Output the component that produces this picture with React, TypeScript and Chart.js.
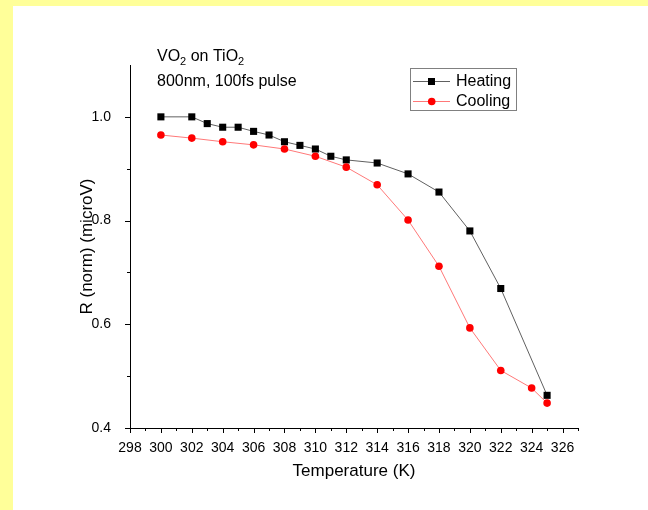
import React, { useEffect, useRef } from "react";
import { Chart, registerables } from "chart.js";

Chart.register(...registerables);

const heatingT = [300, 302, 303, 304, 305, 306, 307, 308, 309, 310, 311, 312, 314, 316, 318, 320, 322, 325];
const heatingR = [1.0, 1.0, 0.987, 0.98, 0.98, 0.972, 0.965, 0.952, 0.945, 0.938, 0.924, 0.917, 0.911, 0.89, 0.855, 0.78, 0.669, 0.463];
const coolingT = [300, 302, 304, 306, 308, 310, 312, 314, 316, 318, 320, 322, 324, 325];
const coolingR = [0.965, 0.959, 0.952, 0.946, 0.938, 0.924, 0.903, 0.869, 0.801, 0.712, 0.593, 0.511, 0.477, 0.448];

const xMajor = [298, 300, 302, 304, 306, 308, 310, 312, 314, 316, 318, 320, 322, 324, 326];
const xMinor = [299, 301, 303, 305, 307, 309, 311, 313, 315, 317, 319, 321, 323, 325, 327];
const yMajor = [0.4, 0.6, 0.8, 1.0];
const yMinor = [0.5, 0.7, 0.9];

const FONT = "'Liberation Sans', Arial, Helvetica, sans-serif";
const HEAT_LINE = "#606060";
const COOL_LINE = "#ff7878";

const extrasPlugin = {
  id: "extras",
  afterDraw(chart: any) {
    const ctx = chart.ctx;
    const xs = chart.scales.x;
    const ys = chart.scales.y;
    const { left, bottom } = chart.chartArea;
    ctx.save();
    ctx.strokeStyle = "#000";
    ctx.lineWidth = 1;
    ctx.beginPath();
    for (const v of xMajor) {
      const p = Math.round(xs.getPixelForValue(v)) + 0.5;
      ctx.moveTo(p, bottom);
      ctx.lineTo(p, bottom + 5);
    }
    for (const v of xMinor) {
      const p = Math.round(xs.getPixelForValue(v)) + 0.5;
      ctx.moveTo(p, bottom);
      ctx.lineTo(p, bottom + 3);
    }
    for (const v of yMajor) {
      const p = Math.round(ys.getPixelForValue(v)) + 0.5;
      ctx.moveTo(left, p);
      ctx.lineTo(left - 5, p);
    }
    for (const v of yMinor) {
      const p = Math.round(ys.getPixelForValue(v)) + 0.5;
      ctx.moveTo(left, p);
      ctx.lineTo(left - 3, p);
    }
    ctx.stroke();

    // annotation text
    ctx.fillStyle = "#000";
    ctx.textBaseline = "alphabetic";
    ctx.textAlign = "left";
    const big = `16px ${FONT}`;
    const small = `11px ${FONT}`;
    const parts: [string, boolean][] = [["VO", false], ["2", true], [" on TiO", false], ["2", true]];
    let x = 157;
    const base = 61;
    for (const [t, sub] of parts) {
      ctx.font = sub ? small : big;
      ctx.fillText(t, x, sub ? base + 4 : base);
      x += ctx.measureText(t).width;
    }
    ctx.font = big;
    ctx.fillText("800nm, 100fs pulse", 157, 86);

    // legend
    ctx.strokeStyle = "#808080";
    ctx.lineWidth = 1;
    ctx.strokeRect(410.5, 68.5, 106, 42);
    const rows = [
      { label: "Heating", y: 81, line: HEAT_LINE, kind: "rect" },
      { label: "Cooling", y: 101, line: COOL_LINE, kind: "circle" },
    ];
    for (const r of rows) {
      ctx.strokeStyle = r.line;
      ctx.beginPath();
      ctx.moveTo(413, r.y + 0.5);
      ctx.lineTo(450, r.y + 0.5);
      ctx.stroke();
      if (r.kind === "rect") {
        ctx.fillStyle = "#000";
        ctx.fillRect(428, r.y - 3, 7, 7);
      } else {
        ctx.fillStyle = "#ff0000";
        ctx.beginPath();
        ctx.arc(431.7, r.y + 0.5, 3.8, 0, Math.PI * 2);
        ctx.fill();
      }
      ctx.fillStyle = "#000";
      ctx.font = big;
      ctx.textBaseline = "middle";
      ctx.fillText(r.label, 456, r.y + 1);
    }
    ctx.restore();
  },
};

export default function App() {
  const ref = useRef<HTMLCanvasElement | null>(null);
  useEffect(() => {
    if (!ref.current) return;
    const chart = new Chart(ref.current, {
      type: "line",
      data: {
        datasets: [
          {
            label: "Heating",
            data: heatingT.map((t, i) => ({ x: t, y: heatingR[i] })),
            borderColor: HEAT_LINE,
            borderWidth: 1,
            pointStyle: "rect",
            pointRadius: 5,
            pointBackgroundColor: "#000",
            pointBorderColor: "#000",
            pointBorderWidth: 0,
            tension: 0,
            order: 2,
          },
          {
            label: "Cooling",
            data: coolingT.map((t, i) => ({ x: t, y: coolingR[i] })),
            borderColor: COOL_LINE,
            borderWidth: 1,
            pointStyle: "circle",
            pointRadius: 3.8,
            pointBackgroundColor: "#ff0000",
            pointBorderColor: "#ff0000",
            pointBorderWidth: 0,
            tension: 0,
            order: 1,
          },
        ],
      },
      options: {
        responsive: false,
        animation: false,
        events: [],
        layout: { padding: { left: 0, right: 70, top: 65, bottom: 0 } },
        plugins: { legend: { display: false }, tooltip: { enabled: false } },
        scales: {
          x: {
            type: "linear",
            min: 298,
            max: 327,
            afterBuildTicks: (s: any) => {
              s.ticks = xMajor.map((v) => ({ value: v }));
            },
            afterFit: (s: any) => {
              s.height = 82;
            },
            grid: { display: false },
            border: { display: true, color: "#000", width: 1 },
            ticks: {
              color: "#000",
              font: { family: FONT, size: 14 },
              padding: 4,
              maxRotation: 0,
              autoSkip: false,
              callback: (v: any) => String(v),
            },
            title: {
              display: true,
              text: "Temperature (K)",
              color: "#000",
              font: { family: FONT, size: 17 },
              padding: { top: 0, bottom: 28 },
            },
          },
          y: {
            type: "linear",
            min: 0.4,
            max: 1.1,
            afterBuildTicks: (s: any) => {
              s.ticks = yMajor.map((v) => ({ value: v }));
            },
            afterFit: (s: any) => {
              s.width = 130;
            },
            grid: { display: false },
            border: { display: true, color: "#000", width: 1 },
            ticks: {
              color: "#000",
              font: { family: FONT, size: 14 },
              padding: 11,
              autoSkip: false,
              callback: (v: any) => Number(v).toFixed(1),
            },
            title: {
              display: true,
              text: "R (norm) (microV)",
              color: "#000",
              font: { family: FONT, size: 17 },
              padding: { top: 77, bottom: 0 },
            },
          },
        },
      },
      plugins: [extrasPlugin],
    });
    return () => chart.destroy();
  }, []);

  return (
    <div style={{ position: "fixed", left: 0, top: 0, width: 648, height: 510, background: "#ffff99" }}>
      <div style={{ position: "absolute", left: 13, top: 6, right: 0, bottom: 0, background: "#fff" }} />
      <canvas ref={ref} width={648} height={510} style={{ position: "absolute", left: 0, top: 0, width: 648, height: 510 }} />
    </div>
  );
}
